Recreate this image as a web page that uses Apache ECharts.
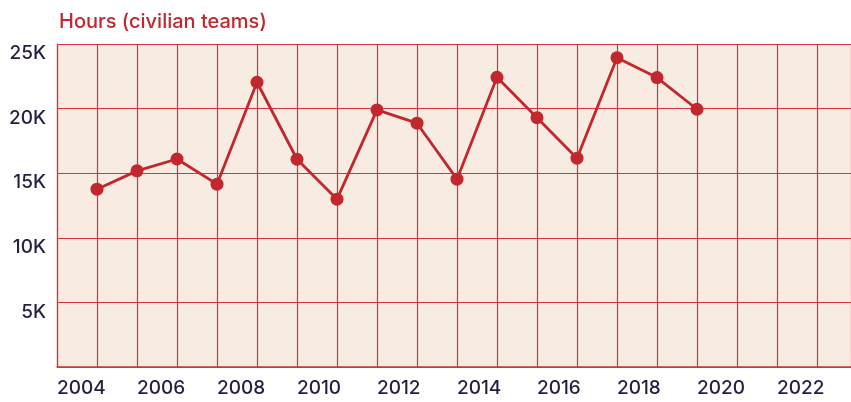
<!DOCTYPE html>
<html lang="en">
	<head>
		<meta charset="utf-8">
	</head>
	<body style="margin: 0; background: #fff">
		<div id="container" style="width: 851px; height: 402px"></div>
		<script type="text/javascript" src="https://cdn.jsdelivr.net/npm/echarts@6/dist/echarts.min.js"></script>
		<script type="text/javascript">
			// years and hours
			var years = [2005, 2006, 2007, 2008, 2009, 2010, 2011, 2012, 2013, 2014, 2015, 2016, 2017, 2018, 2019, 2020];
			var hours = [13760, 15180, 16100, 14150, 22040, 16080, 12990, 19900, 18870, 14540, 22420, 19300, 16160, 23940, 22400, 19950];
			var yTicks = [5000, 10000, 15000, 20000, 25000];

			var red = '#c1272d';
			var gridRed = '#d2363b';
			var ink = '#231f40';
			var font = 'Inter';

			var chartDom = document.getElementById('container');
			var myChart = echarts.init(chartDom);

			var option = {
				animation: false,
				title: {
					text: 'Hours (civilian teams)',
					left: 54,
					top: 7,
					textStyle: {
						color: red,
						fontFamily: font,
						fontSize: 20,
						fontWeight: 500
					}
				},
				grid: {
					left: 57,
					top: 44,
					right: 0,
					bottom: 35,
					show: true,
					backgroundColor: '#f8ebe2',
					borderWidth: 0
				},
				xAxis: {
					type: 'value',
					min: 2004,
					max: 2023.85,
					interval: 1,
					axisLine: { show: true, lineStyle: { color: gridRed, width: 1.5 } },
					axisTick: { show: false },
					splitLine: { show: true, lineStyle: { color: gridRed, width: 1.2 } },
					axisLabel: {
						color: ink,
						fontFamily: font,
						fontSize: 19,
						fontWeight: 500,
						align: 'left',
						margin: 12,
						showMaxLabel: false,
						formatter: function(v) {
							return (v % 2 === 0) ? String(v) : '';
						}
					}
				},
				yAxis: {
					type: 'value',
					min: 0,
					max: 25000,
					interval: 5000,
					axisLine: { show: true, lineStyle: { color: gridRed, width: 1.2 } },
					axisTick: { show: false },
					splitLine: { show: true, lineStyle: { color: gridRed, width: 1.2 } },
					axisLabel: {
						color: ink,
						fontFamily: font,
						fontSize: 19,
						fontWeight: 500,
						margin: 11,
						verticalAlign: 'top',
						formatter: function(v) {
							return yTicks.indexOf(v) >= 0 ? (v / 1000) + 'K' : '';
						}
					}
				},
				series: [{
					type: 'line',
					data: years.map(function(y, i) { return [y, hours[i]]; }),
					symbol: 'circle',
					symbolSize: 13,
					lineStyle: { color: red, width: 2.8 },
					itemStyle: { color: red }
				}]
			};
			myChart.setOption(option);
		</script>
	</body>
</html>
